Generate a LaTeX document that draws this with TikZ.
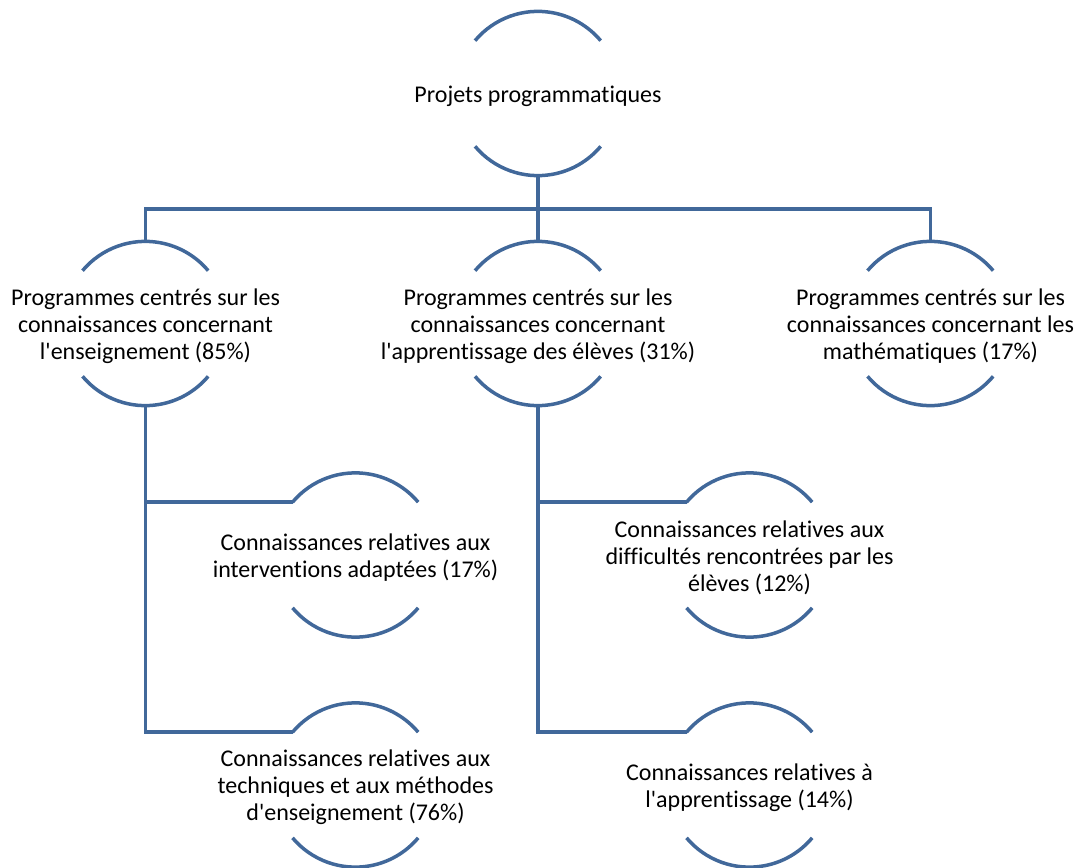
\documentclass[tikz,border=0pt]{standalone}
\usepackage{fontspec}
\setmainfont{Carlito}[Ligatures={TeXOff,NoCommon}]
\definecolor{linec}{RGB}{65,104,154}
\begin{document}
\begin{tikzpicture}[x=1pt,y=-1pt,
  ring/.style={circle,draw=none,minimum size=164pt,inner sep=0pt},
  txt/.style={align=center,text=black,font=\fontsize{24}{27}\selectfont,inner sep=0pt,yshift=-2.5pt},
  conn/.style={draw=linec,line width=3.5pt}]
\useasboundingbox (0,0) rectangle (1081,867);
% nodes
\node[ring] (n0) at (538,93.5) {};
\node[ring] (n1) at (145.5,323.5) {};
\node[ring] (n2) at (538,323.5) {};
\node[ring] (n3) at (930.5,323.5) {};
\node[ring] (c1) at (355.5,555) {};
\node[ring] (c2) at (355.5,785) {};
\node[ring] (c3) at (749.5,555) {};
\node[ring] (c4) at (749.5,785) {};
% arcs
\foreach \n in {n0,n1,n2,n3,c1,c2,c3,c4}{
  \draw[conn] (\n.140) arc[start angle=140,end angle=40,radius=82pt];
  \draw[conn] (\n.220) arc[start angle=220,end angle=320,radius=82pt];
}
% texts
\node[txt] (t0) at (n0) {Projets programmatiques};
\node[txt] (t1) at (n1) {Programmes centrés sur les\\connaissances concernant\\l'enseignement (85\%)};
\node[txt] (t2) at (n2) {Programmes centrés sur les\\connaissances concernant\\l'apprentissage des élèves (31\%)};
\node[txt] (t3) at (n3) {Programmes centrés sur les\\connaissances concernant les\\mathématiques (17\%)};
\node[txt] (t4) at (c1) {Connaissances relatives aux\\interventions adaptées (17\%)};
\node[txt] (t5) at (c2) {Connaissances relatives aux\\techniques et aux méthodes\\d'enseignement (76\%)};
\node[txt] (t6) at (c3) {Connaissances relatives aux\\difficultés rencontrées par les\\élèves (12\%)};
\node[txt] (t7) at (c4) {Connaissances relatives à\\l'apprentissage (14\%)};
% connectors
\coordinate (bus) at (538,209);
\draw[conn] (n0.south) -- (bus);
\draw[conn,line join=miter] (n1.north) -- (n1.north |- bus) -- (n3.north |- bus) -- (n3.north);
\draw[conn] (bus) -- (n2.north);
\draw[conn,line join=miter] (n1.south) |- (c1.140);
\draw[conn,line join=miter] (n1.south) |- (c2.140);
\draw[conn,line join=miter] (n2.south) |- (c3.140);
\draw[conn,line join=miter] (n2.south) |- (c4.140);
\end{tikzpicture}
\end{document}
